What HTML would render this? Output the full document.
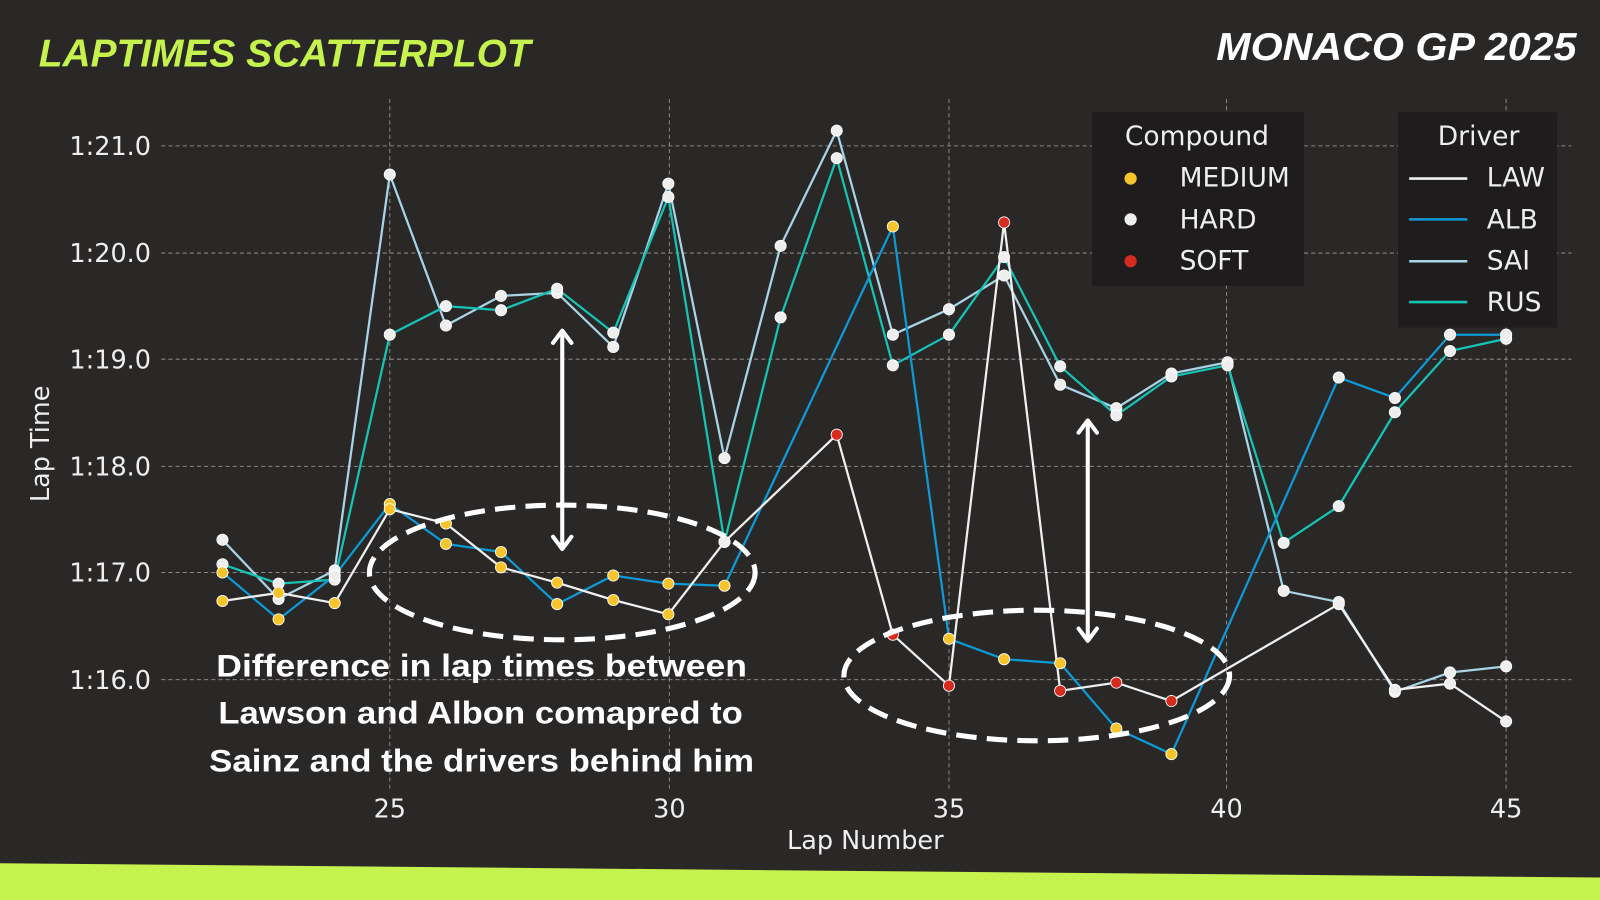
<!DOCTYPE html>
<html><head><meta charset="utf-8"><style>
html,body{margin:0;padding:0;background:#2a2727;}
svg{display:block}
</style></head><body>
<svg width="1600" height="900" viewBox="0 0 1568 882" xmlns="http://www.w3.org/2000/svg" font-family="DejaVu Sans, Liberation Sans, sans-serif">
<rect width="1568" height="882" fill="#2a2727"/>
<polygon points="0,846 1568,860 1568,882 0,882" fill="#c6f24e"/>
<text x="38" y="65" fill="#c6f24e" font-family="Liberation Sans, sans-serif" font-weight="bold" font-style="italic" font-size="38" textLength="482" lengthAdjust="spacingAndGlyphs">LAPTIMES SCATTERPLOT</text>
<text x="1192" y="59" fill="#ffffff" font-family="Liberation Sans, sans-serif" font-weight="bold" font-style="italic" font-size="38" textLength="353" lengthAdjust="spacingAndGlyphs">MONACO GP 2025</text>
<g stroke="#8a8686" stroke-width="1" stroke-dasharray="4,3">
<line x1="382" y1="97" x2="382" y2="775"/><line x1="656" y1="97" x2="656" y2="775"/><line x1="930" y1="97" x2="930" y2="775"/><line x1="1202" y1="97" x2="1202" y2="775"/><line x1="1476" y1="97" x2="1476" y2="775"/>
<line x1="158" y1="143" x2="1540" y2="143"/><line x1="158" y1="248" x2="1540" y2="248"/><line x1="158" y1="352" x2="1540" y2="352"/><line x1="158" y1="457" x2="1540" y2="457"/><line x1="158" y1="561" x2="1540" y2="561"/><line x1="158" y1="666" x2="1540" y2="666"/>
</g>
<g fill="#eeeeee" font-size="25">
<text x="148" y="152" text-anchor="end">1:21.0</text><text x="148" y="257" text-anchor="end">1:20.0</text><text x="148" y="361" text-anchor="end">1:19.0</text><text x="148" y="466" text-anchor="end">1:18.0</text><text x="148" y="570" text-anchor="end">1:17.0</text><text x="148" y="675" text-anchor="end">1:16.0</text>
<g text-anchor="middle"><text x="382" y="801">25</text><text x="656" y="801">30</text><text x="930" y="801">35</text><text x="1202" y="801">40</text><text x="1476" y="801">45</text></g>
<text x="848" y="832" text-anchor="middle">Lap Number</text>
<text transform="translate(48,435) rotate(-90)" text-anchor="middle">Lap Time</text>
</g>
<g fill="none" stroke-width="2.2" stroke-linejoin="round">
<polyline stroke="#a9d4e6" points="218,529 273,587 328,559 382,171 437,319 491,290 546,287 601,340 655,180 710,449 765,241 820,128 875,328 930,303 984,270 1039,377 1094,400 1148,366 1203,355 1258,579 1312,590 1367,678 1421,659 1476,653"/>
<polyline stroke="#15c4b4" points="218,553 273,572 328,568 382,328 437,300 491,304 546,283 601,326 655,193 710,531 765,311 820,155 875,358 930,328 984,252 1039,359 1094,407 1148,369 1203,358 1258,532 1312,496 1367,404 1421,344 1476,332"/>
<polyline stroke="#0e9ad6" points="218,561 273,607 328,564 382,494 437,533 491,541 546,592 601,564 655,572 710,574 875,222 930,626 984,646 1039,650 1094,714 1148,739 1312,370 1367,390 1421,328 1476,328"/>
<polyline stroke="#f0f0f0" points="218,589 273,581 328,591 382,499 437,513 491,556 546,571 601,588 655,602 710,531 820,426 875,622 930,672 984,218 1039,677 1094,669 1148,687 1312,592 1367,676 1421,670 1476,707"/>
</g>
<g stroke="#ffffff" stroke-width="0.8">
<g fill="#eeeeee">
<circle cx="218" cy="529" r="5.5"/><circle cx="273" cy="587" r="5.5"/><circle cx="328" cy="559" r="5.5"/><circle cx="382" cy="171" r="5.5"/><circle cx="437" cy="319" r="5.5"/><circle cx="491" cy="290" r="5.5"/><circle cx="546" cy="287" r="5.5"/><circle cx="601" cy="340" r="5.5"/><circle cx="655" cy="180" r="5.5"/><circle cx="710" cy="449" r="5.5"/><circle cx="765" cy="241" r="5.5"/><circle cx="820" cy="128" r="5.5"/><circle cx="875" cy="328" r="5.5"/><circle cx="930" cy="303" r="5.5"/><circle cx="984" cy="270" r="5.5"/><circle cx="1039" cy="377" r="5.5"/><circle cx="1094" cy="400" r="5.5"/><circle cx="1148" cy="366" r="5.5"/><circle cx="1203" cy="355" r="5.5"/><circle cx="1258" cy="579" r="5.5"/><circle cx="1312" cy="590" r="5.5"/><circle cx="1367" cy="678" r="5.5"/><circle cx="1421" cy="659" r="5.5"/><circle cx="1476" cy="653" r="5.5"/>
<circle cx="218" cy="553" r="5.5"/><circle cx="273" cy="572" r="5.5"/><circle cx="328" cy="568" r="5.5"/><circle cx="382" cy="328" r="5.5"/><circle cx="437" cy="300" r="5.5"/><circle cx="491" cy="304" r="5.5"/><circle cx="546" cy="283" r="5.5"/><circle cx="601" cy="326" r="5.5"/><circle cx="655" cy="193" r="5.5"/><circle cx="710" cy="531" r="5.5"/><circle cx="765" cy="311" r="5.5"/><circle cx="820" cy="155" r="5.5"/><circle cx="875" cy="358" r="5.5"/><circle cx="930" cy="328" r="5.5"/><circle cx="984" cy="252" r="5.5"/><circle cx="1039" cy="359" r="5.5"/><circle cx="1094" cy="407" r="5.5"/><circle cx="1148" cy="369" r="5.5"/><circle cx="1203" cy="358" r="5.5"/><circle cx="1258" cy="532" r="5.5"/><circle cx="1312" cy="496" r="5.5"/><circle cx="1367" cy="404" r="5.5"/><circle cx="1421" cy="344" r="5.5"/><circle cx="1476" cy="332" r="5.5"/>
<circle cx="328" cy="564" r="5.5"/><circle cx="1312" cy="370" r="5.5"/><circle cx="1367" cy="390" r="5.5"/><circle cx="1421" cy="328" r="5.5"/><circle cx="1476" cy="328" r="5.5"/>
<circle cx="710" cy="531" r="5.5"/><circle cx="1312" cy="592" r="5.5"/><circle cx="1367" cy="676" r="5.5"/><circle cx="1421" cy="670" r="5.5"/><circle cx="1476" cy="707" r="5.5"/>
</g>
<g fill="#f7c42b">
<circle cx="218" cy="561" r="5.5"/><circle cx="273" cy="607" r="5.5"/><circle cx="382" cy="494" r="5.5"/><circle cx="437" cy="533" r="5.5"/><circle cx="491" cy="541" r="5.5"/><circle cx="546" cy="592" r="5.5"/><circle cx="601" cy="564" r="5.5"/><circle cx="655" cy="572" r="5.5"/><circle cx="710" cy="574" r="5.5"/><circle cx="875" cy="222" r="5.5"/><circle cx="930" cy="626" r="5.5"/><circle cx="984" cy="646" r="5.5"/><circle cx="1039" cy="650" r="5.5"/><circle cx="1094" cy="714" r="5.5"/><circle cx="1148" cy="739" r="5.5"/>
<circle cx="218" cy="589" r="5.5"/><circle cx="273" cy="581" r="5.5"/><circle cx="328" cy="591" r="5.5"/><circle cx="382" cy="499" r="5.5"/><circle cx="437" cy="513" r="5.5"/><circle cx="491" cy="556" r="5.5"/><circle cx="546" cy="571" r="5.5"/><circle cx="601" cy="588" r="5.5"/><circle cx="655" cy="602" r="5.5"/>
</g>
<g fill="#d62c20">
<circle cx="820" cy="426" r="5.5"/><circle cx="875" cy="622" r="5.5"/><circle cx="930" cy="672" r="5.5"/><circle cx="984" cy="218" r="5.5"/><circle cx="1039" cy="677" r="5.5"/><circle cx="1094" cy="669" r="5.5"/><circle cx="1148" cy="687" r="5.5"/>
</g>
</g>
<g fill="none" stroke="#ffffff" stroke-width="5" stroke-dasharray="20,10">
<ellipse cx="551" cy="561" rx="189" ry="66"/>
<ellipse cx="1016" cy="662" rx="189" ry="64"/>
</g>
<g stroke="#ffffff" stroke-width="4" fill="none" stroke-linecap="round" stroke-linejoin="round">
<line x1="551" y1="326" x2="551" y2="536"/><polyline points="542,336 551,324 560,336"/><polyline points="542,526 551,538 560,526"/>
<line x1="1066" y1="414" x2="1066" y2="626"/><polyline points="1057,424 1066,412 1075,424"/><polyline points="1057,616 1066,628 1075,616"/>
</g>
<g fill="#ffffff" font-family="Liberation Sans, sans-serif" font-weight="bold" font-size="31" lengthAdjust="spacingAndGlyphs">
<text x="212" y="663" textLength="520" lengthAdjust="spacingAndGlyphs">Difference in lap times between</text>
<text x="214" y="709" textLength="514" lengthAdjust="spacingAndGlyphs">Lawson and Albon comapred to</text>
<text x="205" y="756" textLength="534" lengthAdjust="spacingAndGlyphs">Sainz and the drivers behind him</text>
</g>
<rect x="1070" y="110" width="208" height="170" fill="#1e1c1c"/>
<rect x="1370" y="110" width="156" height="211" fill="#1e1c1c"/>
<g fill="#eeeeee" font-size="26">
<text x="1173" y="142" text-anchor="middle">Compound</text>
<text x="1156" y="183">MEDIUM</text><text x="1156" y="224">HARD</text><text x="1156" y="264">SOFT</text>
<text x="1449" y="142" text-anchor="middle">Driver</text>
<text x="1457" y="183">LAW</text><text x="1457" y="224">ALB</text><text x="1457" y="264">SAI</text><text x="1457" y="305">RUS</text>
</g>
<circle cx="1108" cy="175" r="6" fill="#f7c42b"/><circle cx="1108" cy="215" r="6" fill="#eeeeee"/><circle cx="1108" cy="256" r="6" fill="#d62c20"/>
<g stroke-width="2.5"><line x1="1381" y1="175" x2="1438" y2="175" stroke="#f0f0f0"/><line x1="1381" y1="215" x2="1438" y2="215" stroke="#0e9ad6"/><line x1="1381" y1="256" x2="1438" y2="256" stroke="#a9d4e6"/><line x1="1381" y1="296" x2="1438" y2="296" stroke="#15c4b4"/></g>
</svg>
</body></html>
